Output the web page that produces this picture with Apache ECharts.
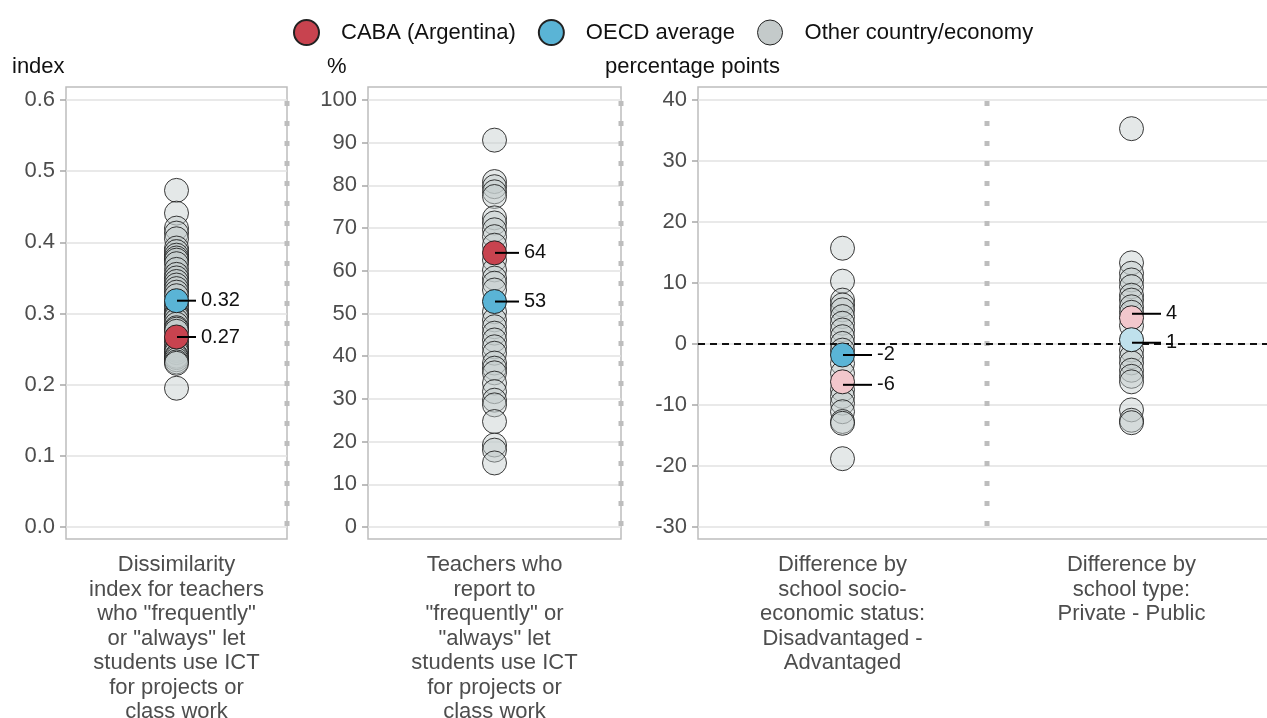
<!DOCTYPE html>
<html>
<head>
<meta charset="utf-8">
<script src="https://cdn.jsdelivr.net/npm/echarts@6/dist/echarts.min.js"></script>
<style>
html,body{margin:0;padding:0;background:#fff}
#main{width:1267px;height:718px}
</style>
</head>
<body>
<div id="main"></div>
<script>
const FONT = '"Liberation Sans", Arial, sans-serif'

// categories (one per panel column)
const cat1 = ['Dissimilarity\nindex for teachers\nwho "frequently"\nor "always" let\nstudents use ICT\nfor projects or\nclass work']
const cat2 = ['Teachers who\nreport to\n"frequently" or\n"always" let\nstudents use ICT\nfor projects or\nclass work']
const cat3 = ['Difference by\nschool socio-\neconomic status:\nDisadvantaged -\nAdvantaged', 'Difference by\nschool type:\nPrivate - Public']

// panel 1: dissimilarity index
const other1 = [0.473,0.441,0.420,0.413,0.405,0.392,0.387,0.382,0.378,0.375,0.370,0.362,0.355,0.350,0.345,0.340,0.335,0.330,0.325,0.315,0.310,0.305,0.300,0.298,0.295,0.290,0.285,0.280,0.278,0.275,0.265,0.260,0.255,0.250,0.248,0.245,0.240,0.238,0.235,0.232,0.230,0.195]
const caba1 = [0.267]
const oecd1 = [0.318]

// panel 2: % teachers
const other2 = [90.6,80.9,79.7,78.5,77.4,72.4,71.2,69.6,68.0,66.0,62.5,60.2,58.3,57.1,55.5,50.4,48.5,46.9,45.4,43.8,42.2,40.7,38.4,37.2,36.1,33.7,31.7,29.7,28.6,24.7,19.2,18.0,15.0]
const caba2 = [64.2]
const oecd2 = [52.8]

// panel 3: differences (percentage points)
const otherGap = [15.7,10.3,7.2,6.4,5.6,4.5,3.4,2.3,1.2,0.1,-1.0,-3.2,-4.8,-7.5,-8.6,-9.7,-11.1,-12.7,-13.0,-18.8]
const otherType = [35.3,13.3,11.6,10.5,9.4,8.0,7.2,6.1,5.2,3.0,-1.0,-2.1,-3.1,-4.3,-5.3,-6.2,-10.8,-12.5,-12.9]
const caba3 = [-6.2, 4.3]
const oecd3 = [-1.8, 0.7]
const cabaSig3 = [false, false]
const oecdSig3 = [true, false]

const yTicks1 = [0, 0.6, 0.1]
const yTicks2 = [0, 100, 10]
const yTicks3 = [-30, 40, 10]

const RED = '#C8434F', RED_LIGHT = '#F2C7CC'
const BLUE = '#5AB4D6', BLUE_LIGHT = '#BFE1EC'
const GREY = '#C4CACA'

// layout
const panels = [
  {left: 66, width: 221},
  {left: 368, width: 253},
  {left: 698, width: 578}
]
const TOP = 100, BOTTOM = 527, BOX_TOP = 87, BOX_BOTTOM = 539

const chart = echarts.init(document.getElementById('main'))

function yAxis(idx, t, fmt) {
  return {
    type: 'value', gridIndex: idx, min: t[0], max: t[1], interval: t[2],
    axisLine: {show: false},
    axisTick: {show: true, length: 6, lineStyle: {color: '#a8a8a8', width: 1.5}},
    axisLabel: {color: '#4d4d4d', fontSize: 22, fontFamily: FONT, margin: 11, formatter: fmt},
    splitLine: {show: true, lineStyle: {color: '#e2e2e2', width: 1.5}}
  }
}
function xAxis(idx, cats) {
  return {
    type: 'category', gridIndex: idx, data: cats, boundaryGap: true,
    axisLine: {show: false}, axisTick: {show: false},
    axisLabel: {color: '#4d4d4d', fontSize: 22, fontFamily: FONT, lineHeight: 24.5, margin: 26, interval: 0},
    splitLine: {show: false}
  }
}
const otherStyle = {color: 'rgba(196,204,204,0.45)', borderColor: 'rgba(25,25,25,0.85)', borderWidth: 1, opacity: 1}

function pts(cats, vals) { return vals.map(v => [cats[0], v]) }

// label with a leader line drawn from the dot centre
function lbl(lineLen, fmt) {
  return {
    show: true, position: 'right', distance: -12,
    formatter: p => '{l|}{t|' + fmt(p.value[1]) + '}',
    rich: {
      l: {width: lineLen, height: 2, backgroundColor: '#000'},
      t: {color: '#111', fontSize: 20, fontFamily: FONT, padding: [0, 0, 0, 5]}
    }
  }
}
const f2 = v => v.toFixed(2)
const f0 = v => String(Math.round(v))

const graphics = []
panels.forEach(p => {
  graphics.push({type: 'rect', silent: true, z: 0,
    shape: {x: p.left, y: BOX_TOP, width: p.width, height: BOX_BOTTOM - BOX_TOP},
    style: {fill: 'none', stroke: '#bdbdbd', lineWidth: 1.5}})
})
// dotted separators
;[panels[0].left + panels[0].width, panels[1].left + panels[1].width, panels[2].left + panels[2].width / 2].forEach(x => {
  graphics.push({type: 'line', silent: true, z: 1,
    shape: {x1: x, y1: BOX_TOP + 14, x2: x, y2: BOX_BOTTOM},
    style: {stroke: '#bdbdbd', lineWidth: 5, lineDash: [5, 15]}})
})
;[['index', 12], ['%', 327], ['percentage points', 605]].forEach(a => {
  graphics.push({type: 'text', left: a[1], top: 56,
    style: {text: a[0], fill: '#111', fontSize: 22, fontFamily: FONT}})
})

chart.setOption({
  animation: false,
  backgroundColor: '#fff',
  textStyle: {fontFamily: FONT},
  legend: {
    top: 14, left: 288, icon: 'circle', itemWidth: 25, itemHeight: 25, itemGap: 22,
    textStyle: {color: '#111', fontSize: 22, fontFamily: FONT, padding: [0, 0, 0, 17]},
    data: [
      {name: 'CABA (Argentina)'},
      {name: 'OECD average'},
      {name: 'Other country/economy', itemStyle: {color: GREY, borderColor: '#222', borderWidth: 1}}
    ]
  },
  grid: panels.map(p => ({left: p.left, width: p.width, top: TOP, height: BOTTOM - TOP,
    containLabel: false, outerBoundsMode: 'none'})),
  xAxis: [xAxis(0, cat1), xAxis(1, cat2), xAxis(2, cat3)],
  yAxis: [
    yAxis(0, yTicks1, v => v.toFixed(1)),
    yAxis(1, yTicks2, v => String(v)),
    yAxis(2, yTicks3, v => String(v))
  ],
  graphic: graphics,
  series: [
    {name: 'Other country/economy', type: 'scatter', xAxisIndex: 0, yAxisIndex: 0, symbolSize: 24,
      itemStyle: otherStyle, data: pts(cat1, other1), z: 2},
    {name: 'Other country/economy', type: 'scatter', xAxisIndex: 1, yAxisIndex: 1, symbolSize: 24,
      itemStyle: otherStyle, data: pts(cat2, other2), z: 2},
    {name: 'Other country/economy', type: 'scatter', xAxisIndex: 2, yAxisIndex: 2, symbolSize: 24,
      itemStyle: otherStyle, data: pts(cat3, otherGap).concat(otherType.map(v => [cat3[1], v])), z: 2,
      markLine: {silent: true, symbol: 'none', label: {show: false},
        lineStyle: {color: '#111', type: [7, 5], width: 2}, data: [{yAxis: 0}]}},

    {name: 'CABA (Argentina)', type: 'scatter', xAxisIndex: 0, yAxisIndex: 0, symbolSize: 24, z: 5,
      itemStyle: {color: RED, borderColor: '#222', borderWidth: 1, opacity: 1},
      label: lbl(19, f2), data: pts(cat1, caba1)},
    {name: 'OECD average', type: 'scatter', xAxisIndex: 0, yAxisIndex: 0, symbolSize: 24, z: 5,
      itemStyle: {color: BLUE, borderColor: '#222', borderWidth: 1, opacity: 1},
      label: lbl(19, f2), data: pts(cat1, oecd1)},

    {name: 'CABA (Argentina)', type: 'scatter', xAxisIndex: 1, yAxisIndex: 1, symbolSize: 24, z: 5,
      itemStyle: {color: RED, borderColor: '#222', borderWidth: 1, opacity: 1},
      label: lbl(24, f0), data: pts(cat2, caba2)},
    {name: 'OECD average', type: 'scatter', xAxisIndex: 1, yAxisIndex: 1, symbolSize: 24, z: 5,
      itemStyle: {color: BLUE, borderColor: '#222', borderWidth: 1, opacity: 1},
      label: lbl(24, f0), data: pts(cat2, oecd2)},

    {name: 'CABA (Argentina)', type: 'scatter', xAxisIndex: 2, yAxisIndex: 2, symbolSize: 24, z: 5,
      itemStyle: {color: RED, borderColor: '#222', borderWidth: 1, opacity: 1},
      label: lbl(29, f0),
      labelLayout: p => ({dy: p.dataIndex === 0 ? 3 : -4}),
      data: caba3.map((v, i) => ({value: [cat3[i], v],
        itemStyle: {color: cabaSig3[i] ? RED : RED_LIGHT, borderColor: '#222', borderWidth: 1, opacity: 1}}))},
    {name: 'OECD average', type: 'scatter', xAxisIndex: 2, yAxisIndex: 2, symbolSize: 24, z: 5,
      itemStyle: {color: BLUE, borderColor: '#222', borderWidth: 1, opacity: 1},
      label: lbl(29, f0),
      labelLayout: p => ({dy: p.dataIndex === 0 ? 0 : 3}),
      data: oecd3.map((v, i) => ({value: [cat3[i], v],
        itemStyle: {color: oecdSig3[i] ? BLUE : BLUE_LIGHT, borderColor: '#222', borderWidth: 1, opacity: 1}}))}
  ]
})
</script>
</body>
</html>
